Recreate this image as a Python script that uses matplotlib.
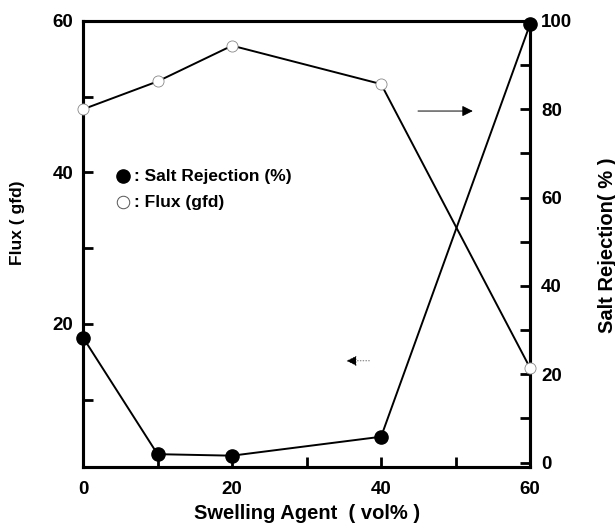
import matplotlib
matplotlib.use("Agg")
import matplotlib.pyplot as plt
from matplotlib.ticker import MultipleLocator

plt.rcParams['font.family'] = ['Liberation Sans', 'DejaVu Sans']
plt.rcParams['font.weight'] = 'bold'

# Swelling agent content (vol%)
swelling_agent = [0, 10, 20, 40, 60]
# Filled-circle series, left axis (gfd)
flux_gfd = [18.2, 2.8, 2.6, 5.1, 59.6]
# Open-circle series, right axis (%)
rejection_pct = [80.0, 86.3, 94.4, 85.7, 21.4]

x_ticks = [0, 20, 40, 60]
left_ticks = [20, 40, 60]
right_ticks = [0, 20, 40, 60, 80, 100]

fig = plt.figure(figsize=(6.15, 5.23), dpi=100)
ax = fig.add_axes([0.135, 0.107, 0.727, 0.853])
ax2 = ax.twinx()

ax.plot(swelling_agent, flux_gfd, color='black', lw=1.4,
        marker='o', ms=9.5, mfc='black', mec='black', clip_on=False, zorder=5)
ax2.plot(swelling_agent, rejection_pct, color='black', lw=1.4,
         marker='o', ms=8, mfc='white', mec='#888888', mew=0.6,
         clip_on=False, zorder=5)

ax.set_xlim(0, 60)
ax.set_ylim(1.1, 60)
ax2.set_ylim(-1.0, 99.7)

ax.set_xticks(x_ticks)
ax.xaxis.set_minor_locator(MultipleLocator(10))
ax.set_yticks(left_ticks)
ax.yaxis.set_minor_locator(MultipleLocator(10))
ax2.set_yticks(right_ticks)
ax2.yaxis.set_minor_locator(MultipleLocator(10))

for a in (ax, ax2):
    for s in a.spines.values():
        s.set_linewidth(2.2)
ax.tick_params(axis='both', which='both', direction='in', length=7, width=2,
               labelsize=13.5, top=False)
ax.tick_params(axis='x', pad=10)
ax.tick_params(axis='y', pad=7)
ax2.tick_params(axis='y', which='both', direction='in', length=7, width=2,
                labelsize=13.5, pad=8)
for lab in ax.get_xticklabels() + ax.get_yticklabels() + ax2.get_yticklabels():
    lab.set_fontweight('bold')

fig.text(0.50, 0.019, 'Swelling Agent  ( vol% )', ha='center', va='center',
         fontsize=14.5, fontweight='bold')
fig.text(0.028, 0.574, 'Flux ( gfd)', rotation=90, ha='center', va='center',
         fontsize=12.5, fontweight='bold')
fig.text(0.987, 0.531, 'Salt Rejection( % )', rotation=90, ha='center',
         va='center', fontsize=14.5, fontweight='bold')

# Key drawn inside the plot area
ax.plot([0.0895], [0.652], transform=ax.transAxes, marker='o', ms=9.5,
        mfc='black', mec='black', ls='none', clip_on=False, zorder=6)
ax.plot([0.0895], [0.594], transform=ax.transAxes, marker='o', ms=9,
        mfc='white', mec='#555555', mew=0.7, ls='none', clip_on=False, zorder=6)
ax.text(0.115, 0.652, ': Salt Rejection (%)', transform=ax.transAxes,
        ha='left', va='center', fontsize=12.5, fontweight='bold')
ax.text(0.115, 0.594, ': Flux (gfd)', transform=ax.transAxes,
        ha='left', va='center', fontsize=12.5, fontweight='bold')

# Arrows pointing to each series' axis
ax.annotate('', xy=(0.878, 0.798), xytext=(0.743, 0.798),
            xycoords='axes fraction', textcoords='axes fraction',
            arrowprops=dict(arrowstyle='-|>', color='black', lw=0.7,
                            mutation_scale=16))
ax.annotate('', xy=(0.583, 0.238), xytext=(0.647, 0.238),
            xycoords='axes fraction', textcoords='axes fraction',
            arrowprops=dict(arrowstyle='-|>', color='black', lw=0.4,
                            ls=(0, (2, 3)), mutation_scale=16))

fig.savefig('out.png', dpi=100)
